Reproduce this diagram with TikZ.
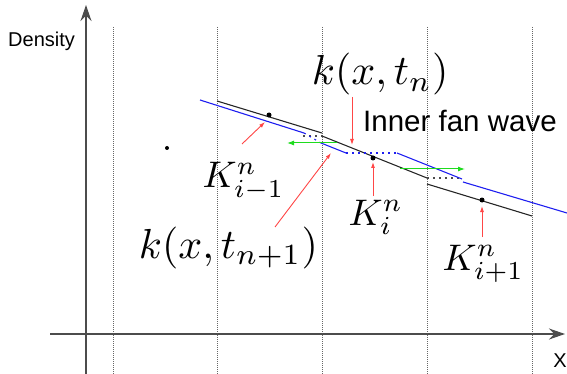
\documentclass[tikz,border=0pt]{standalone}
\usepackage{fontspec}
\newfontfamily\sansf{Liberation Sans}
\usetikzlibrary{arrows.meta}
\definecolor{rd}{RGB}{255,70,70}
\definecolor{gr}{RGB}{30,220,30}
\definecolor{bl}{RGB}{30,30,240}
\begin{document}
\begin{tikzpicture}[x=1pt,y=-1pt,
 axis/.style={draw=black!70, line width=1.2pt},
 cell/.style={draw=black!60, line width=0.7pt, dash pattern=on 1pt off 1pt},
 prof/.style={draw=black!85, line width=1.1pt},
 newprof/.style={draw=bl, line width=1.1pt},
 dotb/.style={draw=bl, line width=1.1pt, dash pattern=on 2pt off 4pt},
 dotk/.style={draw=black!70, line width=1.1pt, dash pattern=on 2pt off 4pt},
 redarr/.style={draw=rd, line width=0.9pt, -{Latex[length=6pt,width=4pt]}},
 grnarr/.style={draw=gr, line width=1pt, -{Latex[length=7pt,width=5pt]}},
 dotpt/.style={circle, fill=black, inner sep=0, minimum size=5pt},
 mlab/.style={inner sep=0, anchor=base west},
 slab/.style={inner sep=0, font=\sansf},
]
\useasboundingbox (0,0) rectangle (567,374);
% cell boundaries
\foreach \xx in {113,217,322,427,532}{
  \draw[cell] (\xx,27) -- (\xx,374);
}
% axes
\coordinate (ybot) at (86,374);
\coordinate (ytop) at (86,5);
\coordinate (xl) at (50,334);
\coordinate (xr) at (565,334);
\draw[axis,-{Stealth[length=16pt,width=11pt]}] (ybot) -- (ytop);
\draw[axis,-{Stealth[length=16pt,width=11pt]}] (xl) -- (xr);
\node[slab, anchor=base west, font=\sansf\fontsize{20}{22}\selectfont] (dens) at (8,47) {Density};
\node[slab, font=\sansf\fontsize{20}{22}\selectfont] (xlab) at (560,361) {X};
% stray point
\node[dotpt, minimum size=4pt] (p0) at (167,148) {};
% old profile (black)
\coordinate (a1) at (217,101); \coordinate (a2) at (322,133);
\coordinate (b1) at (322,136); \coordinate (b2) at (427,178);
\coordinate (c1) at (427,184); \coordinate (c2) at (532,216);
\draw[prof] (a1) -- (a2);
\draw[prof] (b1) -- (b2);
\draw[prof] (c1) -- (c2);
\coordinate (d1) at (303,136);
\draw[dotk] (d1) -- (b1);
\coordinate (d2) at (462,178);
\draw[dotk] (b2) -- (d2);
% new profile (blue)
\coordinate (e1) at (200,100); \coordinate (e2) at (304,133);
\coordinate (e3) at (321,143); \coordinate (e4) at (346,153);
\coordinate (e5) at (397,153); \coordinate (e6) at (462,179);
\coordinate (e7) at (463,182); \coordinate (e8) at (567,213);
\draw[newprof] (e1) -- (e2);
\draw[dotb] (e2) -- (e3);
\draw[newprof] (e3) -- (e4);
\draw[dotb] (e4) -- (e5);
\draw[newprof] (e5) -- (e6);
\draw[newprof] (e7) -- (e8);
% cell averages
\node[dotpt] (km) at (269,115) {};
\node[dotpt] (ki) at (373,158) {};
\node[dotpt] (kp) at (482,200) {};
% labels
\node[mlab, scale=4.2] (ktn) at (311,85) {$k(x,t_n)$};
\node[mlab, scale=3.7] (Km) at (202,188) {$K^n_{i-1}$};
\node[mlab, scale=4.2] (ktn1) at (138,258) {$k(x,t_{n+1})$};
\node[mlab, scale=3.7] (Ki) at (348,225) {$K^n_{i}$};
\node[mlab, scale=3.7] (Kp) at (442,270) {$K^n_{i+1}$};
\node[slab, anchor=base west, font=\sansf\fontsize{29.5}{32}\selectfont] (fan) at (363,132) {Inner fan wave};
% red arrows
\coordinate (r1s) at (352,97);  \coordinate (r1e) at (352,145);
\coordinate (r2s) at (242,144); \coordinate (r2e) at (265,122);
\coordinate (r3s) at (275,227); \coordinate (r3e) at (331,153);
\coordinate (r4s) at (373,196); \coordinate (r4e) at (373,162);
\coordinate (r5s) at (482,237); \coordinate (r5e) at (482,206);
\draw[redarr] (r1s) -- (r1e);
\draw[redarr] (r2s) -- (r2e);
\draw[redarr] (r3s) -- (r3e);
\draw[redarr] (r4s) -- (r4e);
\draw[redarr] (r5s) -- (r5e);
% green arrows
\coordinate (g1s) at (337,143); \coordinate (g1e) at (287,143);
\coordinate (g2s) at (400,169); \coordinate (g2e) at (465,169);
\draw[grnarr] (g1s) -- (g1e);
\draw[grnarr] (g2s) -- (g2e);
\end{tikzpicture}
\end{document}
